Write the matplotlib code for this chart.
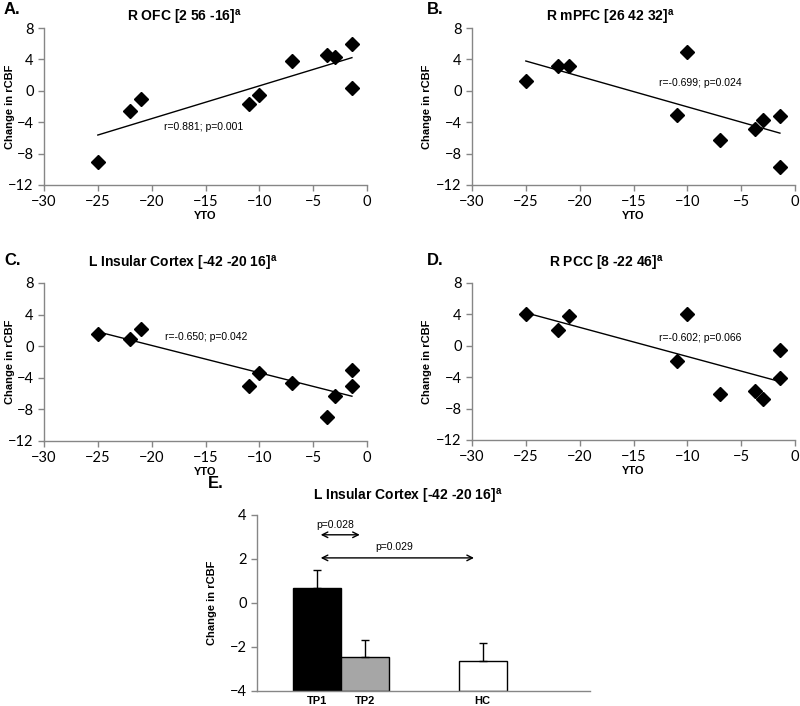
import numpy as np
import matplotlib.pyplot as plt

plt.rcParams['font.family'] = ['Liberation Sans', 'DejaVu Sans']
plt.rcParams['mathtext.fontset'] = 'custom'
plt.rcParams['mathtext.bf'] = 'Liberation Sans:bold'
plt.rcParams['mathtext.rm'] = 'Liberation Sans'

TICK_FONT = 'Lato'
GRAY = '#868686'

# years to onset (same subjects in every scatter panel)
yto = [-25, -22, -21, -11, -10, -7, -3.7, -3, -1.4, -1.4]

ofc = [-9.1, -2.6, -1.0, -1.7, -0.5, 3.8, 4.6, 4.3, 5.9, 0.3]
mpfc = [1.3, 3.2, 3.1, -3.1, 5.0, -6.3, -4.9, -3.7, -3.2, -9.7]
insula = [1.5, 0.9, 2.2, -5.0, -3.4, -4.6, -8.9, -6.3, -3.0, -5.1]
pcc = [4.0, 2.0, 3.8, -2.0, 4.0, -6.2, -5.8, -6.8, -0.5, -4.1]

panels = [
    ('A.', 'R OFC [2 56 -16]', ofc, 'r=0.881; p=0.001'),
    ('B.', 'R mPFC [26 42 32]', mpfc, 'r=-0.699; p=0.024'),
    ('C.', 'L Insular Cortex [-42 -20 16]', insula, 'r=-0.650; p=0.042'),
    ('D.', 'R PCC [8 -22 46]', pcc, 'r=-0.602; p=0.066'),
]

# bar panel
groups = ['TP1', 'TP2', 'HC']
group_mean = [0.7, -2.45, -2.65]
group_err = [0.8, 0.75, 0.85]
group_colors = ['black', '#a6a6a6', 'white']

W, H = 800, 706
fig = plt.figure(figsize=(8, 7.06), dpi=100)


def ax_box(x0, y0, x1, y1):
    return [x0 / W, 1 - y1 / H, (x1 - x0) / W, (y1 - y0) / H]


def style(ax):
    for s in ['top', 'right']:
        ax.spines[s].set_visible(False)
    for s in ['left', 'bottom']:
        ax.spines[s].set_color(GRAY)
        ax.spines[s].set_linewidth(1)
    ax.tick_params(colors=GRAY, labelcolor='black', length=4, width=1,
                   labelsize=10.5)
    for lab in ax.get_xticklabels() + ax.get_yticklabels():
        lab.set_family(TICK_FONT)


boxes = [ax_box(44, 28, 367, 185), ax_box(472, 28, 795, 185),
         ax_box(44, 283, 367, 441), ax_box(472, 283, 795, 440)]
tag_pos = [(4, 10), (427, 10), (4, 260), (427, 260)]
title_pos = [(184, 17), (610, 17), (183, 263), (606, 263)]
ylab_x = [15, 432, 15, 432]
note_pos = [(-15.2, -4.6), (-8.8, 1.0), (-14.9, 1.2), (-8.8, 1.05)]

for i, (tag, title, vals, note) in enumerate(panels):
    ax = fig.add_axes(boxes[i])
    ax.plot(yto, vals, 'D', color='black', markersize=7.5, zorder=3)
    k, b = np.polyfit(yto, vals, 1)
    xl = np.array([min(yto), max(yto)])
    ax.plot(xl, k * xl + b, color='black', lw=1)
    ax.set_xlim(-30, 0)
    ax.set_ylim(-12, 8)
    ax.set_xticks(range(-30, 1, 5))
    ax.set_yticks(range(-12, 9, 4))
    style(ax)
    ax.text(note_pos[i][0], note_pos[i][1], note, ha='center', va='center',
            fontsize=7.5)
    ax.set_xlabel('YTO', fontsize=8, fontweight='bold', labelpad=1)
    fig.text(tag_pos[i][0] / W, 1 - tag_pos[i][1] / H, tag, fontsize=12,
             fontweight='bold', va='center', ha='left')
    fig.text(title_pos[i][0] / W, 1 - title_pos[i][1] / H,
             title + r'$^{\mathbf{a}}$', fontsize=10, fontweight='bold',
             ha='center', va='center')
    ax.set_ylabel('Change in rCBF', fontsize=8, fontweight='bold')
    ax.yaxis.set_label_coords((ylab_x[i] - boxes[i][0] * W) / (boxes[i][2] * W), 0.5)

# panel E: bars rise from the axis floor (-4)
ax = fig.add_axes(ax_box(257, 515, 590, 691))
pos = [1.25, 2.25, 4.7]
floor = -4
ax.bar(pos, [m - floor for m in group_mean], bottom=floor, width=1.0,
       color=group_colors, edgecolor='black', linewidth=1, zorder=2)
ax.errorbar(pos, group_mean, yerr=[[0, 0, 0], group_err], fmt='none',
            ecolor='black', elinewidth=1, capsize=3, capthick=1, zorder=3)
ax.set_xlim(0, 6.94)
ax.set_ylim(-4, 4)
ax.set_yticks(range(-4, 5, 2))
ax.set_xticks(pos)
ax.set_xticklabels(groups)
style(ax)
ax.tick_params(axis='x', length=0)
for lab in ax.get_xticklabels():
    lab.set_family('Liberation Sans')
    lab.set_fontweight('bold')
    lab.set_fontsize(8)
ax.set_ylabel('Change in rCBF', fontsize=8, fontweight='bold')
ax.yaxis.set_label_coords((217 - 257) / 333, 0.5)
ax.annotate('', xy=(2.2, 3.1), xytext=(1.27, 3.1),
            arrowprops=dict(arrowstyle='<->', color='black', lw=1))
ax.annotate('', xy=(4.58, 2.05), xytext=(1.27, 2.05),
            arrowprops=dict(arrowstyle='<->', color='black', lw=1))
ax.text(1.63, 3.55, 'p=0.028', ha='center', va='center', fontsize=7.5)
ax.text(2.87, 2.55, 'p=0.029', ha='center', va='center', fontsize=7.5)
fig.text(208 / W, 1 - 483 / H, 'E.', fontsize=12, fontweight='bold',
         va='center', ha='left')
fig.text(408 / W, 1 - 497 / H, r'L Insular Cortex [-42 -20 16]$^{\mathbf{a}}$',
         fontsize=10, fontweight='bold', ha='center', va='center')

fig.savefig('out.png', dpi=100)
